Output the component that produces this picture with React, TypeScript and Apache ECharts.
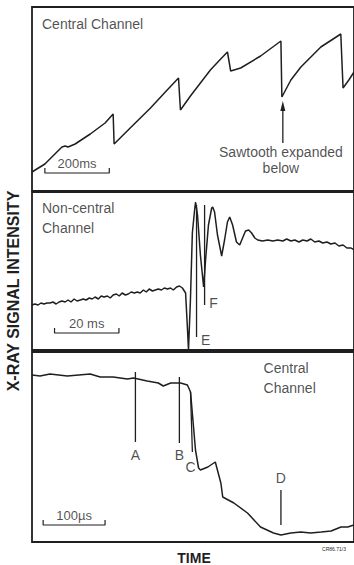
import React, { useEffect, useRef } from "react";
import * as echarts from "echarts";

const FONT = '"Liberation Sans", Arial, Helvetica, sans-serif';
const INK = "#1f1f1f";

// Panel 1 – central channel sawteeth (time in ms, signal in arbitrary units)
const centralSawtooth: [number, number][] = [
  [0, 19], [40, 27], [93, 44], [103, 45], [112, 44], [134, 47], [181, 57], [227, 68], [252, 77],
  [255, 47], [305, 63], [368, 83], [414, 99], [455, 113],
  [461, 81], [492, 95], [523, 108], [554, 121], [586, 132], [607, 139],
  [617, 120], [648, 123], [710, 135], [773, 150],
  [776, 94], [804, 111], [835, 124], [897, 144], [959, 157],
  [966, 103], [984, 111], [1000, 119],
];

// Panel 2 – non-central channel (time in ms)
const noncentralTrace: [number, number][] = [
  [0, 45], [0.9, 46], [1.9, 45], [2.8, 47], [3.7, 46], [4.7, 47], [5.6, 47], [6.5, 48], [7.5, 46], [8.4, 48],
  [9.3, 49], [10.3, 48], [11.2, 50], [12.1, 48], [13.1, 51], [14.0, 49], [15.0, 50], [15.9, 51], [16.8, 50],
  [17.8, 52], [18.7, 51], [19.6, 53], [20.6, 51], [21.5, 54], [22.4, 53], [23.4, 54], [24.3, 52], [25.2, 55],
  [26.2, 56], [27.1, 54], [28.0, 57], [29.0, 55], [29.9, 56], [30.8, 58], [31.8, 57], [32.7, 58], [33.6, 57],
  [34.6, 60], [35.5, 58], [36.4, 61], [37.4, 59], [38.3, 60], [39.2, 61], [40.2, 60], [41.1, 62], [42.1, 61],
  [43.0, 62], [43.9, 60], [44.9, 63], [45.8, 64], [46.7, 62],
  [47.7, 57], [48.3, 20], [48.6, 0], [49.2, 50], [49.8, 117], [50.5, 140], [50.8, 148], [51.4, 135],
  [52.3, 95], [53.3, 63], [53.9, 90], [54.8, 125], [55.8, 142], [56.1, 143], [56.7, 138], [57.6, 115],
  [58.9, 94], [59.8, 110], [60.7, 128], [61.4, 133], [62.3, 125], [63.5, 108], [64.5, 105], [65.4, 112],
  [66.3, 119], [67.3, 120], [68.2, 117], [69.2, 112], [70.1, 110], [71.6, 109], [73.2, 110], [74.8, 109],
  [76.3, 110], [77.9, 109], [79.1, 111], [80.4, 109], [81.6, 110], [82.9, 108], [84.1, 110], [85.4, 109],
  [86.6, 111], [87.8, 108], [89.1, 109], [90.3, 107], [91.6, 108], [92.8, 106], [94.1, 107], [95.3, 104],
  [96.6, 105], [97.8, 102], [99.1, 102], [100, 100],
];

// Panel 3 – expanded sawtooth collapse, central channel (time in µs)
const collapseTrace: [number, number][] = [
  [0, 167], [13, 166], [29, 168], [57, 166], [94, 168], [110, 165], [131, 165], [154, 163], [164, 164],
  [186, 161], [204, 159], [212, 156], [224, 159], [240, 159], [251, 157], [256, 150], [264, 92], [269, 74],
  [272, 72], [284, 75], [296, 80], [305, 59], [308, 45], [326, 39], [348, 29], [369, 15], [390, 9], [402, 7],
  [418, 9], [434, 10], [450, 9], [467, 10], [483, 11], [499, 15], [510, 15], [520, 17],
];

// Event markers: [panel, x1, y1, x2, y2]
const markerLines: [number, number, number, number, number][] = [
  [1, 51.1, 145, 51.1, 13],
  [1, 53.6, 145, 53.6, 45],
  [2, 167, 170, 167, 100],
  [2, 238, 165, 238, 99],
  [2, 256, 150, 259, 90],
  [2, 402, 52, 402, 17],
];
// Marker letters: [panel, x, y, text]
const markerLabels: [number, number, number, string][] = [
  [1, 53.9, 10, "E"],
  [1, 56.4, 47, "F"],
  [2, 167, 87, "A"],
  [2, 238, 87, "B"],
  [2, 256, 75, "C"],
  [2, 402, 64, "D"],
];
// Scale bars: [panel, start, length, barY, tickY, label, labelX, labelY]
const scaleBars: [number, number, number, number, number, string, number, number][] = [
  [0, 40, 200, 18, 23, "200ms", 140, 28],
  [1, 7, 20, 17, 22, "20 ms", 17, 27],
  [2, 18, 100, 17, 22, "100\u00b5s", 68, 27],
];
// Panel titles: [panel, x, y, text, align]
const panelTitles: [number, number, number, string, string][] = [
  [0, 31, 167, "Central Channel", "left"],
  [1, 3.1, 132, "Non-central\nChannel", "left"],
  [2, 374, 164, "Central\nChannel", "left"],
  [0, 773, 31.5, "Sawtooth expanded\nbelow", "center"],
];
// Arrow pointing at the expanded sawtooth: [x, yStart, yEnd]
const sawtoothArrow: [number, number, number] = [779, 48, 85];

const xRanges: [number, number][] = [[0, 1000], [0, 100], [0, 520]];
const yRanges: [number, number][] = [[0, 184], [0, 158], [0, 190]];

export default function App() {
  const ref = useRef<HTMLDivElement>(null);
  useEffect(() => {
    document.body.style.margin = "0";
    document.body.style.background = "#ffffff";
    const chart = echarts.init(ref.current!, undefined, { renderer: "svg" });

    const grids = [
      { left: 32, top: 7, width: 322, height: 184 },
      { left: 32, top: 192, width: 322, height: 158 },
      { left: 32, top: 352, width: 322, height: 190 },
    ].map((g) => ({ ...g, show: true, borderColor: INK, borderWidth: 1.8, backgroundColor: "transparent" }));

    const xAxis = xRanges.map((r, i) => ({
      type: "value", gridIndex: i, min: r[0], max: r[1], show: false,
    }));
    const yAxis = yRanges.map((r, i) => ({
      type: "value", gridIndex: i, min: r[0], max: r[1], show: false,
    }));

    const lineBase = (i: number) => ({
      type: "line", xAxisIndex: i, yAxisIndex: i, showSymbol: false, silent: true,
      lineStyle: { color: INK, width: 1.5 },
    });

    const series: any[] = [];
    series.push({ ...lineBase(0), data: centralSawtooth });
    series.push({ ...lineBase(1), data: noncentralTrace });
    series.push({ ...lineBase(2), data: collapseTrace });

    markerLines.forEach(([p, x1, y1, x2, y2]) => {
      series.push({ ...lineBase(p), data: [[x1, y1], [x2, y2]], lineStyle: { color: INK, width: 1.3 } });
    });

    scaleBars.forEach(([p, s, len, by, ty]) => {
      series.push({
        ...lineBase(p),
        data: [[s, ty], [s, by], [s + len, by], [s + len, ty]],
        lineStyle: { color: INK, width: 1.2 },
      });
    });

    series.push({
      ...lineBase(0),
      showSymbol: true,
      symbol: "none",
      data: [
        { value: [sawtoothArrow[0], sawtoothArrow[1]], symbol: "none" },
        { value: [sawtoothArrow[0], sawtoothArrow[2]], symbol: "triangle", symbolSize: [5, 10], itemStyle: { color: INK } },
      ],
      lineStyle: { color: INK, width: 1.3 },
    });

    const textSeries = (p: number, items: any[]) => ({
      type: "scatter", xAxisIndex: p, yAxisIndex: p, symbolSize: 0, silent: true,
      data: items,
    });

    [0, 1, 2].forEach((p) => {
      const items: any[] = [];
      markerLabels.filter((m) => m[0] === p).forEach(([, x, y, t]) => {
        items.push({
          value: [x, y],
          label: { show: true, position: "inside", formatter: t, color: INK, fontFamily: FONT, fontSize: 14 },
        });
      });
      scaleBars.filter((m) => m[0] === p).forEach((m) => {
        items.push({
          value: [m[6], m[7]],
          label: { show: true, position: "inside", formatter: m[5], color: INK, fontFamily: FONT, fontSize: 13 },
        });
      });
      panelTitles.filter((m) => m[0] === p).forEach(([, x, y, t, align]) => {
        items.push({
          value: [x, y],
          label: {
            show: true, position: "inside", formatter: t, color: INK, fontFamily: FONT, fontSize: 14,
            align, lineHeight: t.startsWith("Sawtooth") ? 16 : 20,
          },
        });
      });
      series.push(textSeries(p, items));
    });

    chart.setOption({
      animation: false,
      backgroundColor: "#ffffff",
      grid: grids,
      xAxis,
      yAxis,
      series,
      graphic: [
        {
          type: "text", x: 13, y: 291, rotation: Math.PI / 2,
          style: {
            text: "X-RAY SIGNAL INTENSITY", fill: INK, font: `bold 16px ${FONT}`,
            textAlign: "center", textVerticalAlign: "middle",
          },
        },
        {
          type: "text", x: 194, y: 558,
          style: { text: "TIME", fill: INK, font: `bold 14px ${FONT}`, textAlign: "center", textVerticalAlign: "middle" },
        },
        {
          type: "text", x: 334, y: 549,
          style: { text: "CR86.71/3", fill: INK, font: `5px ${FONT}`, textAlign: "center", textVerticalAlign: "middle" },
        },
      ],
    });
    return () => chart.dispose();
  }, []);
  return <div ref={ref} style={{ width: 354, height: 565 }} />;
}
